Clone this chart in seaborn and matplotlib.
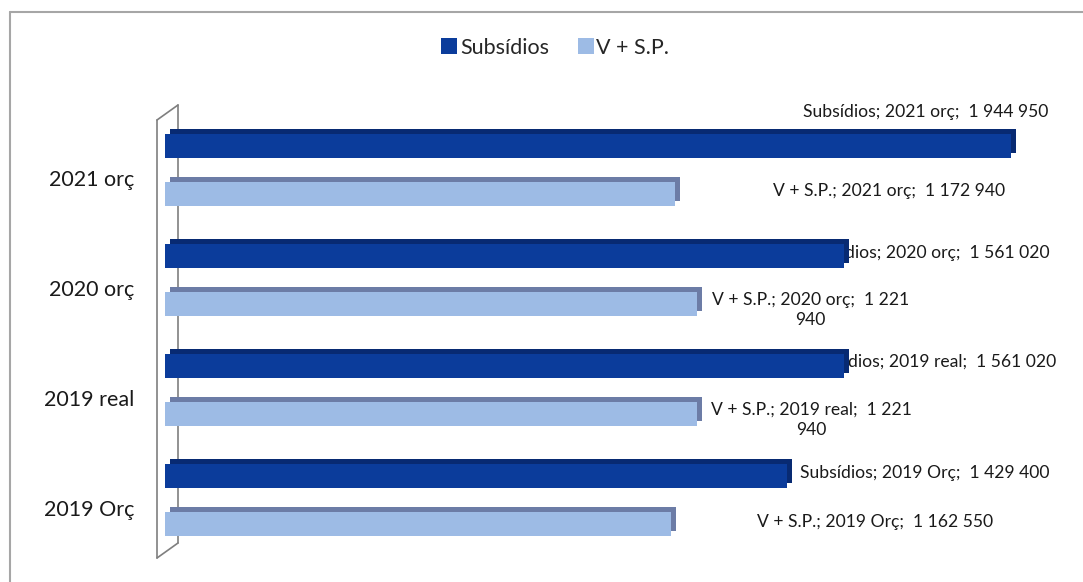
import matplotlib
matplotlib.use("Agg")
import matplotlib.pyplot as plt
import matplotlib.patheffects as pe
from matplotlib.lines import Line2D
from matplotlib.transforms import ScaledTranslation
import seaborn as sns
import pandas as pd

# ---- data ----
periods = ["2021 orç", "2020 orç", "2019 real", "2019 Orç"]
series = ["Subsídios", "V + S.P."]
subsidios = [1944950, 1561020, 1561020, 1429400]
v_sp = [1172940, 1221940, 1221940, 1162550]

# ---- style ----
colors = {"Subsídios": "#0b3c9b", "V + S.P.": "#9dbbe5"}
depth_colors = {"Subsídios": "#082a72", "V + S.P.": "#6c7ca6"}
# label placement in pixels relative to the end of each bar (dx right, dy up)
label_offsets = {
    "Subsídios": [(-85, 34), (83, 3), (88, 4), (138, 3)],
    "V + S.P.": [(214, 3), (114, -6), (115, -6), (204, 2)],
}
label_wrap = {
    "Subsídios": [False, False, False, False],
    "V + S.P.": [False, True, True, False],
}

W, H = 1083, 582
sns.set_theme(style="white")
plt.rcParams["font.family"] = ["Lato", "DejaVu Sans"]

df = pd.DataFrame({
    "Período": periods * 2,
    "Série": [series[0]] * len(periods) + [series[1]] * len(periods),
    "Valor": subsidios + v_sp,
})

fig = plt.figure(figsize=(W / 100, H / 100), dpi=100)


def fx(x):
    return x / W


def fy(y):
    return 1 - y / H


ax = fig.add_axes([fx(165), fy(555), (1075 - 165) / W, 440 / H])
sns.barplot(
    data=df, y="Período", x="Valor", hue="Série",
    order=periods, hue_order=series, palette=colors,
    orient="h", width=0.873, gap=0.48, saturation=1,
    legend=False, ax=ax, zorder=2, linewidth=0,
)
ax.set_xlim(0, 2.092e6)
ax.set_ylim(3.5, -0.5)
for s in ax.spines.values():
    s.set_visible(False)
ax.set_xticks([])
ax.set_xlabel("")
ax.set_ylabel("")
ax.set_yticks(range(len(periods)))
ax.set_yticklabels(periods, fontsize=15.5, color="#1a1a1a")
ax.tick_params(axis="y", length=0, pad=22)
for lbl in ax.get_yticklabels():
    lbl.set_transform(lbl.get_transform() + ScaledTranslation(0, -8 / 100, fig.dpi_scale_trans))

# 3D depth on each bar and value labels
for name, cont in zip(series, ax.containers):
    for i, bar in enumerate(cont):
        bar.set_path_effects([
            pe.SimplePatchShadow(offset=(3.6, 3.6), shadow_rgbFace=depth_colors[name], alpha=1.0),
            pe.Normal(),
        ])
        val = bar.get_width()
        num = f"{int(round(val)):,}".replace(",", " ")
        if label_wrap[name][i]:
            head, tail = num.rsplit(" ", 1)
            txt = f"{name}; {periods[i]};  {head}\n{tail}"
        else:
            txt = f"{name}; {periods[i]};  {num}"
        dx, dy = label_offsets[name][i]
        ax.annotate(
            txt, xy=(val, bar.get_y() + bar.get_height() / 2),
            xytext=(dx, dy), textcoords="offset pixels",
            ha="center", va="center", multialignment="center",
            fontsize=12.6, color="#1a1a1a", linespacing=1.3,
            zorder=1, annotation_clip=False,
        )

# side wall of the 3D plot area
wall_kw = dict(color="#7f7f7f", lw=1.2, transform=fig.transFigure, clip_on=False, zorder=0.5)
for (x0, y0), (x1, y1) in [((157, 120), (157, 558)), ((178, 105), (178, 543)),
                           ((157, 120), (178, 105)), ((157, 558), (178, 543))]:
    ax.add_line(Line2D([fx(x0), fx(x1)], [fy(y0), fy(y1)], **wall_kw))

# chart border
border_kw = dict(color="#a6a6a6", lw=1.5, transform=fig.transFigure)
fig.add_artist(Line2D([fx(10), fx(W)], [fy(12), fy(12)], **border_kw))
fig.add_artist(Line2D([fx(10), fx(10)], [fy(12), fy(H)], **border_kw))

handles = [Line2D([], [], marker="s", ls="", markersize=11, markerfacecolor=colors[s],
                  markeredgewidth=0) for s in series]
fig.legend(handles, series, loc="center", bbox_to_anchor=(fx(555), fy(48)), ncol=2,
           frameon=False, fontsize=15.5, handletextpad=0.1, columnspacing=1.3,
           handlelength=0.8)

fig.savefig("out.png", dpi=100)
